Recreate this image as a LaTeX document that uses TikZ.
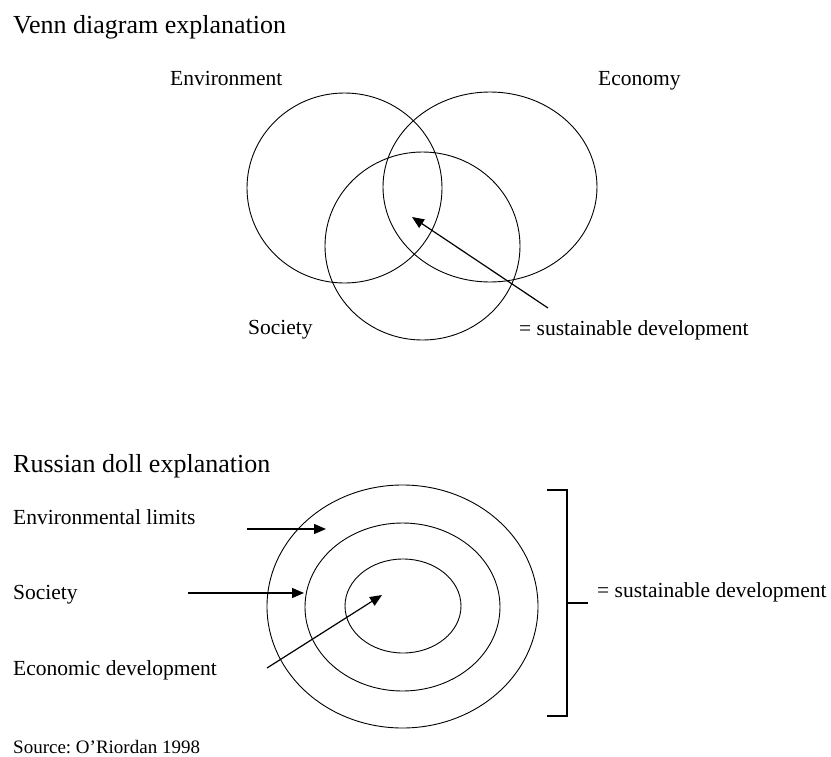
\documentclass[tikz,border=0pt]{standalone}
\usepackage{fontspec}
\setmainfont{Liberation Serif}
\usetikzlibrary{arrows.meta,shapes.geometric}
\frenchspacing
\begin{document}
\begin{tikzpicture}[x=1pt,y=-1pt,
  lbl/.style={anchor=base west,inner sep=0pt,font=\fontsize{21.5}{24}\selectfont},
  ttl/.style={anchor=base west,inner sep=0pt,font=\fontsize{26}{30}\selectfont},
  src/.style={anchor=base west,inner sep=0pt,font=\fontsize{19}{22}\selectfont},
  ring/.style={draw,line width=0.9pt,ellipse,inner sep=0pt},
  arr/.style={line width=1.2pt,-{Triangle[length=12pt,width=10pt]}},
  brk/.style={line width=1.2pt}]
\useasboundingbox (0,0) rectangle (831,756);
% Venn section
\node[ttl] (t1) at (13,33) {Venn diagram explanation};
\node[lbl] (env) at (170,85) {Environment};
\node[lbl] (eco) at (598,85) {Economy};
\node[lbl] (soc) at (248,334) {Society};
\node[lbl] (sd1) at (519,335) {= sustainable development};
\node[ring,minimum width=195pt,minimum height=190pt] (cenv) at (344.5,188) {};
\node[ring,minimum width=214pt,minimum height=190pt] (ceco) at (490,187) {};
\node[ring,minimum width=195pt,minimum height=188pt] (csoc) at (422.5,246) {};
\coordinate (va) at (548,308);
\coordinate (vb) at (412,217);
\draw[arr] (va) -- (vb);
% Russian doll section
\node[ttl] (t2) at (13,472) {Russian doll explanation};
\node[lbl] (rel) at (13,524) {Environmental limits};
\node[lbl] (rso) at (13,599) {Society};
\node[lbl] (red) at (13,675) {Economic development};
\node[lbl] (sd2) at (597,597) {= sustainable development};
\node[src] (source) at (13,753) {Source: O’Riordan 1998};
\node[ring,minimum width=271pt,minimum height=243pt] (outer) at (402.5,606.5) {};
\node[ring,minimum width=195pt,minimum height=168pt] (middle) at (402.5,607) {};
\node[ring,minimum width=116pt,minimum height=94pt] (inner) at (403,606) {};
\coordinate (a1s) at (247,529);
\coordinate (a1e) at (326,529);
\coordinate (a2s) at (188,593);
\coordinate (a2e) at (304,593);
\coordinate (a3s) at (267,668);
\coordinate (a3e) at (382,595);
\draw[arr] (a1s) -- (a1e);
\draw[arr] (a2s) -- (a2e);
\draw[arr] (a3s) -- (a3e);
\coordinate (b1) at (547,490);
\coordinate (b2) at (567,490);
\coordinate (b3) at (567,716);
\coordinate (b4) at (547,716);
\coordinate (bm) at (567,603);
\coordinate (bt) at (588,603);
\draw[brk] (b1) -- (b2) -- (b3) -- (b4);
\draw[brk] (bm) -- (bt);
\end{tikzpicture}
\end{document}
